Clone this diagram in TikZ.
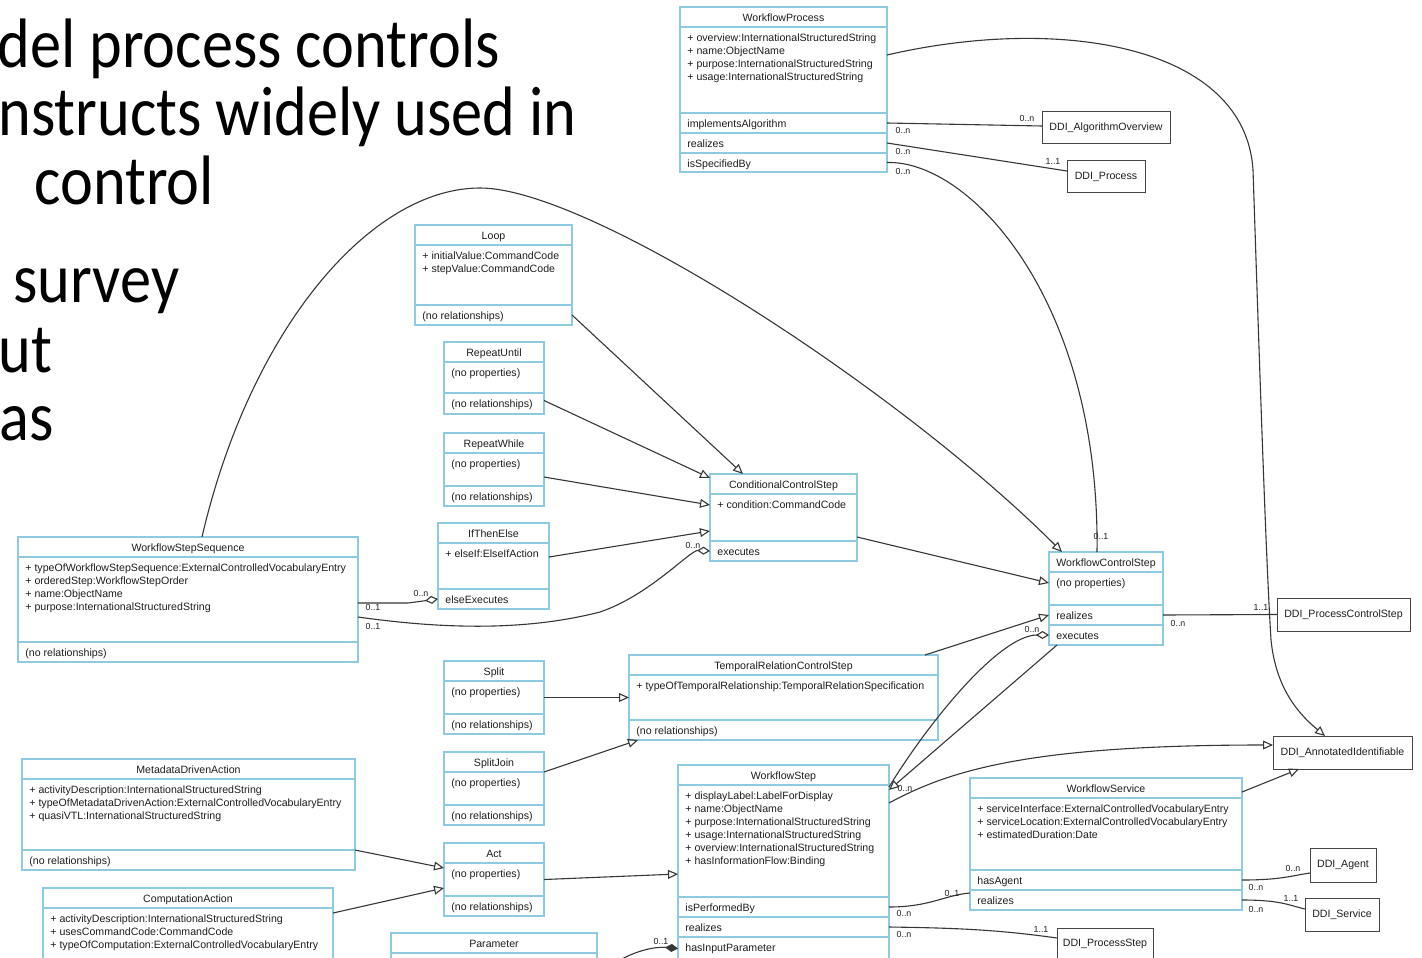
\documentclass[tikz,border=0pt]{standalone}
\usepackage{graphicx}
\usepackage{fontspec}
\setmainfont{Liberation Sans}
\newfontfamily\slidefamily{Carlito}
\usetikzlibrary{arrows.meta,calc}

\definecolor{umlblue}{RGB}{142,202,226}
\definecolor{ink}{RGB}{30,30,30}
\definecolor{wirecol}{RGB}{55,55,55}
\definecolor{ddiline}{RGB}{70,70,70}

\newcommand\umlfont{\fontsize{5.3}{6.5}\selectfont}
\newcommand\multfont{\fontsize{4.4}{5}\selectfont}
\newcommand\slidetext{\slidefamily\fontsize{35}{38}\selectfont}

\tikzset{
  cellbox/.style={draw=umlblue, line width=0.6pt, fill=white, rectangle, inner sep=0pt, outer sep=0pt},
  celltext/.style={anchor=north west, inner sep=0pt, align=left, font=\umlfont, text=ink},
  titletext/.style={anchor=north, inner sep=0pt, font=\umlfont, text=ink},
  ddibox/.style={draw=ddiline, line width=0.5pt, fill=white, inner sep=0pt, outer sep=0pt, font=\umlfont, text=ink},
  mult/.style={font=\multfont, text=ink, inner sep=0pt},
  wire/.style={draw=wirecol, line width=0.55pt},
  gen/.style={wire, -{Triangle[open, length=5pt, width=4.4pt]}},
  agg/.style={wire, {Diamond[open, length=6.5pt, width=4pt]}-},
  comp/.style={wire, {Diamond[length=6.5pt, width=4pt]}-},
  slide/.style={anchor=base west, inner sep=0pt, font=\slidetext, text=black},
}

% one compartment of a class box: name, x1, y1, x2, y2, text
\newcommand\umlcell[6]{%
  \node[cellbox, minimum width={(#4-#2)*0.5pt}, minimum height={(#5-#3)*0.5pt}] (#1) at ({(#2+#4)/2},{(#3+#5)/2}) {};
  \node[celltext] (#1-t) at ({#2+7},{#3+4.9}) {\strut #6};}
% the title compartment, text centred
\newcommand\umltitle[6]{%
  \node[cellbox, minimum width={(#4-#2)*0.5pt}, minimum height={(#5-#3)*0.5pt}] (#1) at ({(#2+#4)/2},{(#3+#5)/2}) {};
  \node[titletext] (#1-t) at ({(#2+#4)/2},{#3+5}) {\strut #6};}

\begin{document}
\begin{tikzpicture}[x=0.5pt, y=-0.5pt]
\useasboundingbox (0,0) rectangle (1422,957);
\clip (0,0) rectangle (1422,957);
\fill[white] (0,0) rectangle (1422,957);

% slide text
\node[slide] (s1) at (-3,68)  {\scalebox{0.89}[1]{del process controls}};
\node[slide] (s2) at (-2,136) {\scalebox{0.89}[1]{nstructs widely used in}};
\node[slide] (s3) at (34,205) {\scalebox{0.89}[1]{control}};
\node[slide] (s4) at (13,302) {\scalebox{0.89}[1]{survey}};
\node[slide] (s5) at (-2,372) {\scalebox{0.89}[1]{ut}};
\node[slide] (s6) at (-1,440) {\scalebox{0.89}[1]{as}};

% WorkflowProcess
\umltitle{wp}{680}{7}{887}{27}{WorkflowProcess}
\umlcell{wp-attr}{680}{27}{887}{113}{+ overview:InternationalStructuredString\\+ name:ObjectName\\+ purpose:InternationalStructuredString\\+ usage:InternationalStructuredString}
\umlcell{wp-impl}{680}{113}{887}{133}{implementsAlgorithm}
\umlcell{wp-real}{680}{133}{887}{153}{realizes}
\umlcell{wp-spec}{680}{153}{887}{172}{isSpecifiedBy}

% Loop
\umltitle{loop}{415}{225}{572}{245}{Loop}
\umlcell{loop-attr}{415}{245}{572}{305}{+ initialValue:CommandCode\\+ stepValue:CommandCode}
\umlcell{loop-rel}{415}{305}{572}{325}{(no relationships)}

% RepeatUntil
\umltitle{ru}{444}{342}{544}{362}{RepeatUntil}
\umlcell{ru-prop}{444}{362}{544}{393}{(no properties)}
\umlcell{ru-rel}{444}{393}{544}{414}{(no relationships)}

% RepeatWhile
\umltitle{rw}{444}{433}{544}{453}{RepeatWhile}
\umlcell{rw-prop}{444}{453}{544}{486}{(no properties)}
\umlcell{rw-rel}{444}{486}{544}{506}{(no relationships)}

% IfThenElse
\umltitle{ite}{438}{523}{549}{543}{IfThenElse}
\umlcell{ite-attr}{438}{543}{549}{589}{+ elseIf:ElseIfAction}
\umlcell{ite-rel}{438}{589}{549}{609}{elseExecutes}

% ConditionalControlStep
\umltitle{ccs-title}{710}{474}{857}{494}{ConditionalControlStep}
\umlcell{ccs-attr}{710}{494}{857}{541}{+ condition:CommandCode}
\umlcell{ccs-rel}{710}{541}{857}{561}{executes}

% WorkflowStepSequence
\umltitle{wss-title}{18}{537}{358}{557}{WorkflowStepSequence}
\umlcell{wss-attr}{18}{557}{358}{642}{+ typeOfWorkflowStepSequence:ExternalControlledVocabularyEntry\\+ orderedStep:WorkflowStepOrder\\+ name:ObjectName\\+ purpose:InternationalStructuredString}
\umlcell{wss-rel}{18}{642}{358}{662}{(no relationships)}

% WorkflowControlStep
\umltitle{wcs-title}{1049}{552}{1163}{572}{WorkflowControlStep}
\umlcell{wcs-prop}{1049}{572}{1163}{605}{(no properties)}
\umlcell{wcs-real}{1049}{605}{1163}{625}{realizes}
\umlcell{wcs-exec}{1049}{625}{1163}{645}{executes}

% Split
\umltitle{split}{444}{661}{544}{681}{Split}
\umlcell{split-prop}{444}{681}{544}{714}{(no properties)}
\umlcell{split-rel}{444}{714}{544}{734}{(no relationships)}

% TemporalRelationControlStep
\umltitle{trcs-title}{629}{655}{938}{675}{TemporalRelationControlStep}
\umlcell{trcs-attr}{629}{675}{938}{720}{+ typeOfTemporalRelationship:TemporalRelationSpecification}
\umlcell{trcs-rel}{629}{720}{938}{740}{(no relationships)}

% SplitJoin
\umltitle{sj-title}{444}{752}{544}{772}{SplitJoin}
\umlcell{sj-prop}{444}{772}{544}{805}{(no properties)}
\umlcell{sj-rel}{444}{805}{544}{825}{(no relationships)}

% Act
\umltitle{act}{444}{843}{544}{863}{Act}
\umlcell{act-prop}{444}{863}{544}{896}{(no properties)}
\umlcell{act-rel}{444}{896}{544}{916}{(no relationships)}

% Parameter
\umltitle{param}{391}{933}{597}{953}{Parameter}
\umlcell{param-attr}{391}{953}{597}{1000}{}

% MetadataDrivenAction
\umltitle{mda}{22}{759}{355}{779}{MetadataDrivenAction}
\umlcell{mda-attr}{22}{779}{355}{850}{+ activityDescription:InternationalStructuredString\\+ typeOfMetadataDrivenAction:ExternalControlledVocabularyEntry\\+ quasiVTL:InternationalStructuredString}
\umlcell{mda-rel}{22}{850}{355}{870}{(no relationships)}

% ComputationAction
\umltitle{ca}{43}{888}{333}{908}{ComputationAction}
\umlcell{ca-attr}{43}{908}{333}{1000}{+ activityDescription:InternationalStructuredString\\+ usesCommandCode:CommandCode\\+ typeOfComputation:ExternalControlledVocabularyEntry}

% WorkflowStep
\umltitle{ws}{678}{765}{889}{785}{WorkflowStep}
\umlcell{ws-attr}{678}{785}{889}{897}{+ displayLabel:LabelForDisplay\\+ name:ObjectName\\+ purpose:InternationalStructuredString\\+ usage:InternationalStructuredString\\+ overview:InternationalStructuredString\\+ hasInformationFlow:Binding}
\umlcell{ws-perf}{678}{897}{889}{917}{isPerformedBy}
\umlcell{ws-real}{678}{917}{889}{937}{realizes}
\umlcell{ws-hip}{678}{937}{889}{960}{hasInputParameter}

% WorkflowService
\umltitle{wsv-title}{970}{778}{1242}{798}{WorkflowService}
\umlcell{wsv-attr}{970}{798}{1242}{870}{+ serviceInterface:ExternalControlledVocabularyEntry\\+ serviceLocation:ExternalControlledVocabularyEntry\\+ estimatedDuration:Date}
\umlcell{wsv-agent}{970}{870}{1242}{890}{hasAgent}
\umlcell{wsv-real}{970}{890}{1242}{910}{realizes}

% external DDI classes
\node[ddibox, minimum width={128*0.5pt}, minimum height={32*0.5pt}] (algo) at (1106,128) {DDI\_AlgorithmOverview};
\node[ddibox, minimum width={78*0.5pt}, minimum height={32*0.5pt}] (proc) at (1106,177) {DDI\_Process};
\node[ddibox, minimum width={133*0.5pt}, minimum height={33*0.5pt}] (pcs) at (1343.5,614.5) {DDI\_ProcessControlStep};
\node[ddibox, minimum width={139*0.5pt}, minimum height={33*0.5pt}] (ai) at (1342.5,752.5) {DDI\_AnnotatedIdentifiable};
\node[ddibox, minimum width={66*0.5pt}, minimum height={34*0.5pt}] (agent) at (1343,865) {DDI\_Agent};
\node[ddibox, minimum width={74*0.5pt}, minimum height={33*0.5pt}] (svc) at (1342,914.5) {DDI\_Service};
\node[ddibox, minimum width={96*0.5pt}, minimum height={32*0.5pt}] (pstep) at (1105,944) {DDI\_ProcessStep};

% ---- connectors ----
% WorkflowProcess
\draw[wire] (wp-impl.east) -- ($(algo.west)+(0,-2)$);
\draw[wire] (wp-real.east) -- ($(proc.west)+(0,-6)$);
\draw[wire] (wp-spec.east) .. controls (970,160) and (1100,300) .. ($(wcs-title.north)+(-9,0)$);
\draw[gen] ($(wp-attr.north east)+(0,28)$) .. controls (1060,15) and (1245,45) .. (1253,170)
   .. controls (1260,380) and (1266,560) .. (1271,640)
   .. controls (1276,690) and (1300,715) .. ($(ai.north west)+(52,0)$);

% WorkflowStepSequence specialises WorkflowControlStep
\draw[gen] ($(wss-title.north west)+(184,0)$) .. controls (250,330) and (370,188) .. (480,188)
   .. controls (590,188) and (900,390) .. ($(wcs-title.north west)+(13,0)$);

% subclasses of ConditionalControlStep
\draw[gen] (loop-rel.east) -- ($(ccs-title.north west)+(33,0)$);
\draw[gen] ($(ru-rel.east)+(0,-3)$) -- ($(ccs-title.north west)+(0,4)$);
\draw[gen] ($(rw-prop.north east)+(0,24)$) -- ($(ccs-attr.north west)+(0,11)$);
\draw[gen] ($(ite-attr.north east)+(0,14)$) -- ($(ccs-attr.north west)+(0,37)$);

% aggregations to WorkflowStepSequence
\draw[agg] (ite-rel.west) -- ($(ite-rel.west)+(-30,4)$) -- ($(wss-attr.north east)+(0,46)$);
\draw[agg] (ccs-rel.west) .. controls (690,550) and (650,595) .. (600,612)
   .. controls (530,630) and (450,630) .. ($(wss-attr.north east)+(0,60)$);

% WorkflowControlStep
\draw[gen] ($(ccs-attr.north east)+(0,43)$) -- ($(wcs-prop.north west)+(0,11)$);
\draw[gen] ($(trcs-title.north east)+(-13,0)$) -- (wcs-real.west);
\draw[wire] (wcs-real.east) -- (pcs.west);
\draw[agg] (wcs-exec.west) .. controls (1000,635) and (930,720) .. ($(ws-attr.north east)+(0,2)$);
\draw[gen] ($(wcs-exec.south west)+(8,0)$) -- ($(ws-attr.north east)+(0,5)$);

% TemporalRelationControlStep subclasses
\draw[gen] (split-prop.east) -- (split-prop.east -| trcs-attr.west);
\draw[gen] (sj-title.south east) -- ($(trcs-rel.south west)+(9,0)$);

% Act and its subclasses
\draw[gen] (act-prop.east) -- ($(ws-attr.north west)+(0,89)$);
\draw[gen] (mda-attr.south east) -- ($(act-prop.north west)+(0,5)$);
\draw[gen] ($(ca-attr.north east)+(0,5)$) -- ($(act-prop.north west)+(0,25)$);

% WorkflowStep
\draw[comp] (ws-hip.west) .. controls (650,946) and (620,955) .. (param-attr.east);
\draw[gen] ($(ws-attr.north east)+(0,18)$) .. controls (950,770) and (1030,745) .. ($(ai.north west)+(0,9)$);
\draw[wire] (ws-perf.east) .. controls (930,907) and (945,895) .. ($(wsv-real.north west)+(0,3)$);
\draw[wire] (ws-real.east) .. controls (960,928) and (1000,930) .. ($(pstep.north west)+(0,10)$);

% WorkflowService
\draw[gen] ($(wsv-title.north east)+(0,14)$) -- ($(ai.south west)+(26,0)$);
\draw[wire] (wsv-agent.east) .. controls (1280,880) and (1290,876) .. ($(agent.south west)+(0,-9)$);
\draw[wire] (wsv-real.east) .. controls (1280,900) and (1288,905) .. ($(svc.north west)+(0,11)$);

% multiplicities
\node[mult] (m1) at (903,130) {0..n};
\node[mult] (m2) at (1027,118) {0..n};
\node[mult] (m3) at (903,151) {0..n};
\node[mult] (m4) at (1053,161) {1..1};
\node[mult] (m5) at (903,171) {0..n};
\node[mult] (m6) at (1101,536) {0..1};
\node[mult] (m7) at (373,607) {0..1};
\node[mult] (m8) at (373,626) {0..1};
\node[mult] (m9) at (421,593) {0..n};
\node[mult] (m10) at (693,545) {0..n};
\node[mult] (m11) at (1032,629) {0..n};
\node[mult] (m12) at (1178,623) {0..n};
\node[mult] (m13) at (1261,607) {1..1};
\node[mult] (m14) at (905,788) {0..n};
\node[mult] (m15) at (661,941) {0..1};
\node[mult] (m16) at (904,913) {0..n};
\node[mult] (m17) at (952,893) {0..1};
\node[mult] (m18) at (904,934) {0..n};
\node[mult] (m19) at (1041,929) {1..1};
\node[mult] (m20) at (1256,887) {0..n};
\node[mult] (m21) at (1293,868) {0..n};
\node[mult] (m22) at (1256,909) {0..n};
\node[mult] (m23) at (1291,898) {1..1};
\end{tikzpicture}
\end{document}
